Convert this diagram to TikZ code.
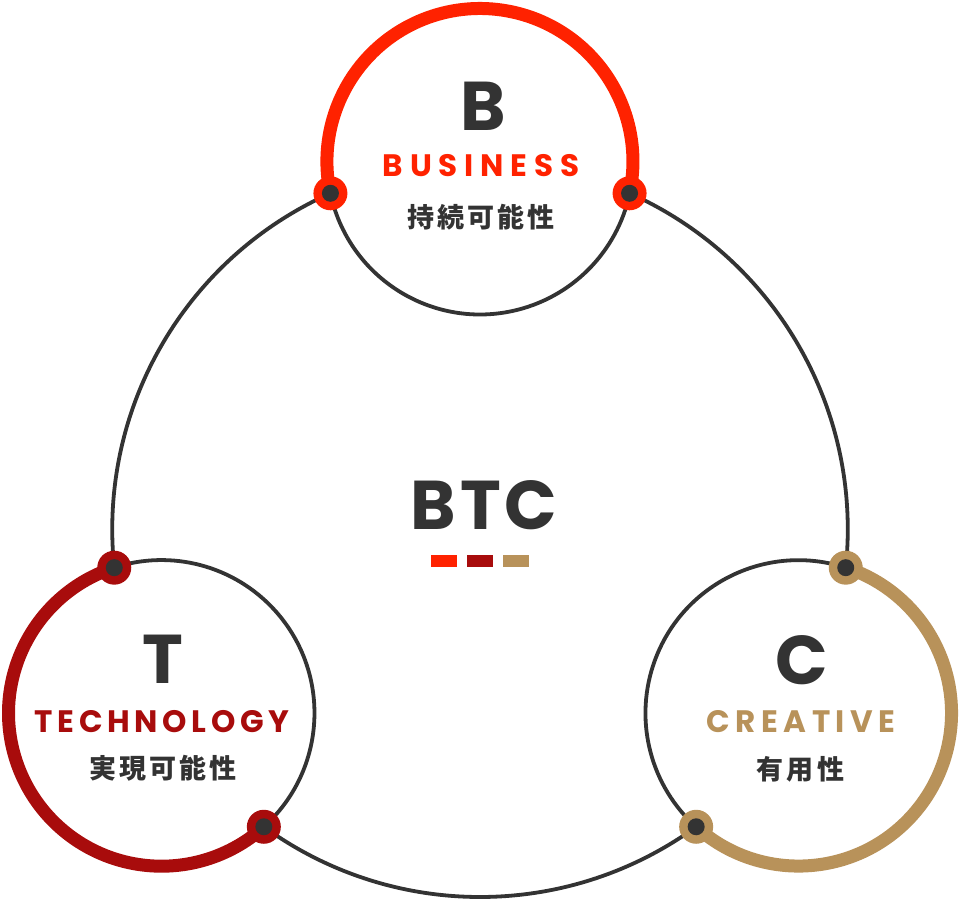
\documentclass[tikz,border=0pt]{standalone}
\usepackage{fontspec}
\setmainfont{Poppins}
\newfontfamily\spacedB{Poppins}[LetterSpace=22]
\newfontfamily\spacedT{Poppins}[LetterSpace=15]
\newfontfamily\spacedC{Poppins}[LetterSpace=18]
\newfontfamily\btcfont{Poppins}[LetterSpace=6]
\newfontfamily\jp{Noto Sans CJK JP}[LetterSpace=12]
\usetikzlibrary{calc}
\definecolor{bred}{HTML}{FF2200}
\definecolor{tred}{HTML}{A80C0C}
\definecolor{ctan}{HTML}{B8925A}
\definecolor{dgray}{HTML}{333333}
\tikzset{
  thinline/.style={draw=dgray, line width=3.8pt},
  thickline/.style={line width=13pt},
  bigletter/.style={font=\fontsize{69}{69}\selectfont\bfseries, text=dgray, anchor=base, inner sep=0pt},
  word/.style={font=\fontsize{31}{31}\selectfont#1\bfseries, anchor=base, inner sep=0pt},
  jpword/.style={font=\fontsize{27}{27}\selectfont\jp\bfseries, text=dgray, anchor=center, inner sep=0pt},
  sq/.style={rectangle, minimum width=26pt, minimum height=12pt, inner sep=0pt},
}
\begin{document}
\begin{tikzpicture}[x=1pt,y=1pt]
\useasboundingbox (0,0) rectangle (960,902);
\def\Rb{367.75}
\def\rs{153}
\coordinate (O) at (480,372.75);
\coordinate (B) at ($(O)+(90:\Rb)$);
\coordinate (T) at ($(O)+(210:\Rb)$);
\coordinate (C) at ($(O)+(330:\Rb)$);
\coordinate (b1) at ($(O)+(66:\Rb)$);
\coordinate (b2) at ($(O)+(114:\Rb)$);
\coordinate (t1) at ($(O)+(186:\Rb)$);
\coordinate (t2) at ($(O)+(234:\Rb)$);
\coordinate (c1) at ($(O)+(306:\Rb)$);
\coordinate (c2) at ($(O)+(354:\Rb)$);
% big circle arcs
\draw[thinline] (b2) arc[start angle=114, end angle=186, radius=\Rb];
\draw[thinline] (t2) arc[start angle=234, end angle=306, radius=\Rb];
\draw[thinline] (c2) arc[start angle=354, end angle=426, radius=\Rb];
% inner arcs of small circles
\draw[thinline] (b2) arc[start angle=192, end angle=348, radius=\rs];
\draw[thinline] (t2) arc[start angle=-48, end angle=108, radius=\rs];
\draw[thinline] (c2) arc[start angle=72, end angle=228, radius=\rs];
% thick outer arcs
\draw[thickline, draw=bred] (b1) arc[start angle=-12, end angle=192, radius=\rs];
\draw[thickline, draw=tred] (t1) arc[start angle=108, end angle=312, radius=\rs];
\draw[thickline, draw=ctan] (c1) arc[start angle=228, end angle=432, radius=\rs];
% dots
\foreach \p/\c in {b1/bred, b2/bred, t1/tred, t2/tred, c1/ctan, c2/ctan}{
  \fill[\c] (\p) circle[radius=17pt];
  \fill[dgray] (\p) circle[radius=8.5pt];
}
% texts
\node[bigletter] (bl) at (483,771) {B};
\node[word=\spacedB, text=bred] (bw) at (481,725) {BUSINESS};
\node[jpword] (bj) at (481,684.5) {持続可能性};
\node[bigletter] (tl) at (163,218) {T};
\node[word=\spacedT, text=tred] (tw) at (162,170) {TECHNOLOGY};
\node[jpword] (tj) at (163,133.5) {実現可能性};
\node[bigletter] (cl) at (802,217) {C};
\node[word=\spacedC, text=ctan] (cw) at (801,170) {CREATIVE};
\node[jpword] (cj) at (800.5,132.5) {有用性};
\node[bigletter, font=\fontsize{69}{69}\selectfont\btcfont\bfseries] (btc) at (484,372) {BTC};
\node[sq, fill=bred] (s1) at (444,341) {};
\node[sq, fill=tred] (s2) at (480,341) {};
\node[sq, fill=ctan] (s3) at (516,341) {};
\end{tikzpicture}
\end{document}
